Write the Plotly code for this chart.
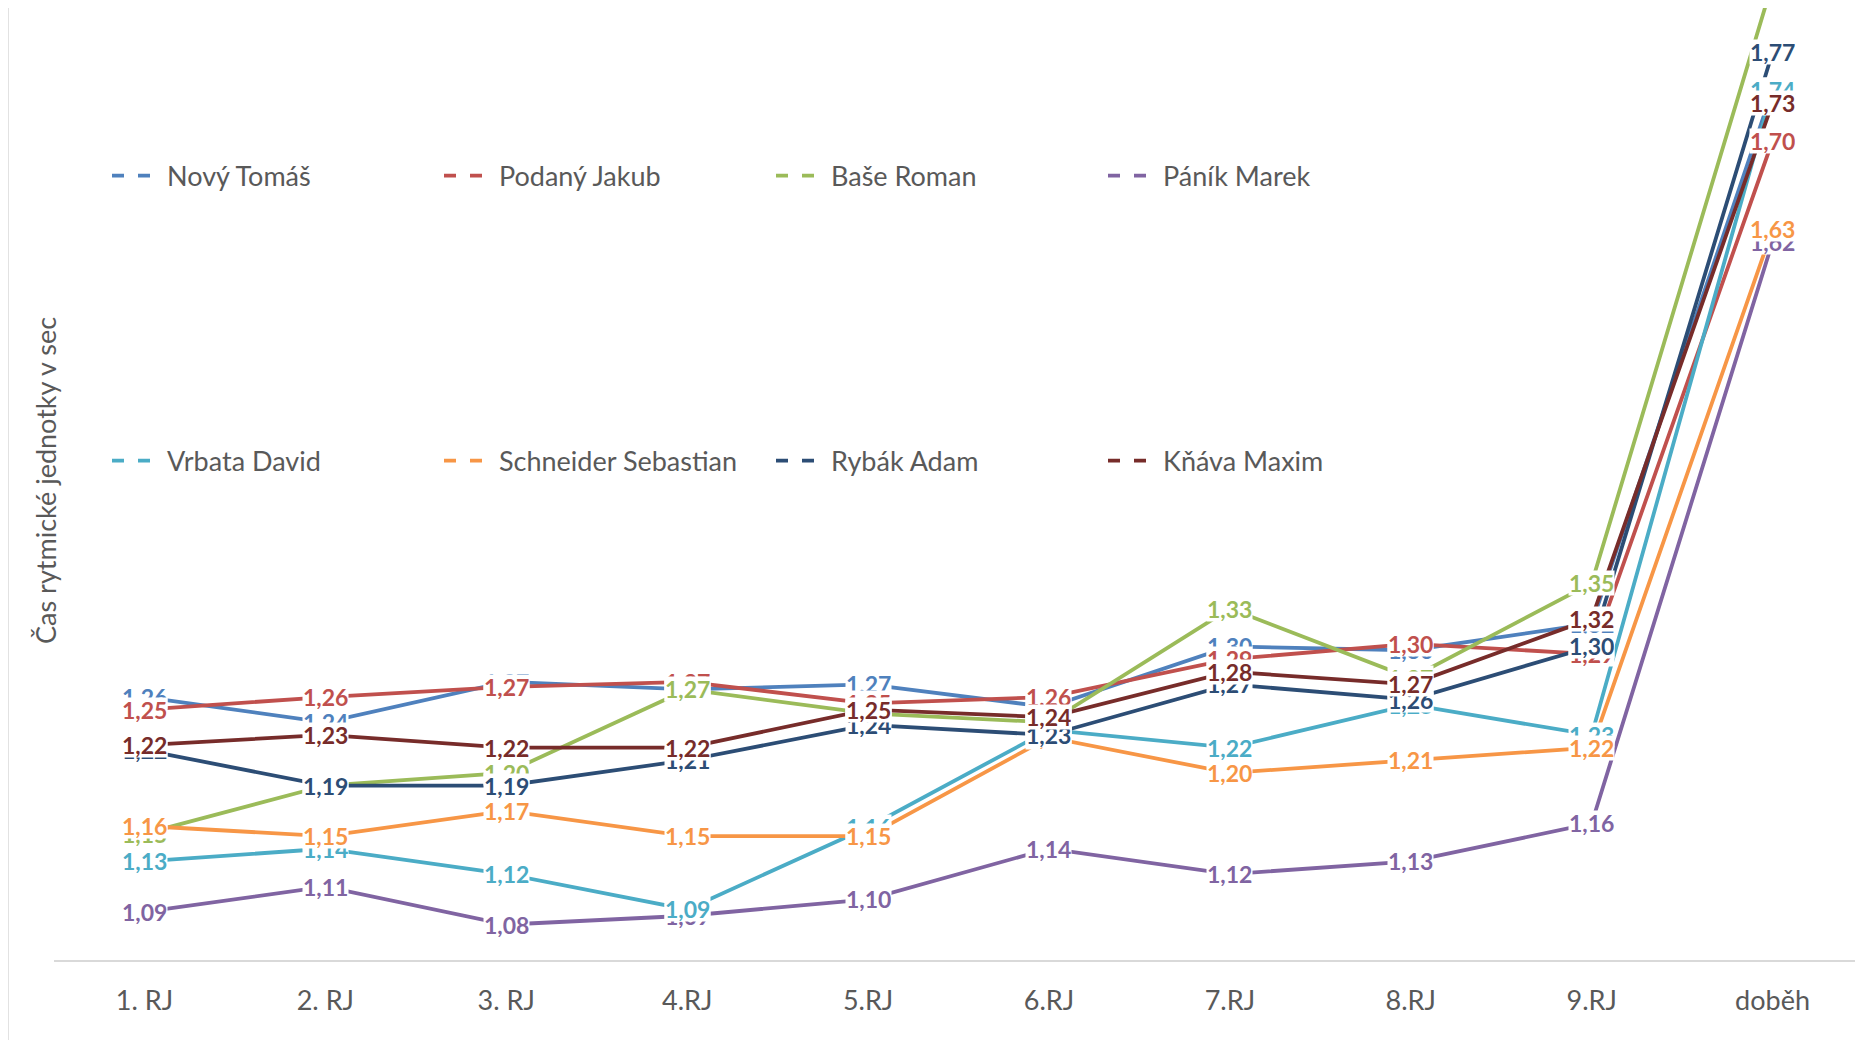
import plotly.graph_objects as go

categories = ["1. RJ", "2. RJ", "3. RJ", "4.RJ", "5.RJ", "6.RJ", "7.RJ", "8.RJ", "9.RJ", "doběh"]

novy_tomas = [1.26, 1.24, 1.272, 1.266, 1.27, 1.252, 1.30, 1.297, 1.318, 1.74]
podany_jakub = [1.25, 1.26, 1.268, 1.272, 1.255, 1.26, 1.29, 1.302, 1.294, 1.70]
base_roman = [1.152, 1.19, 1.20, 1.266, 1.247, 1.24, 1.33, 1.275, 1.35, 1.825]
panik_marek = [1.09, 1.11, 1.08, 1.087, 1.10, 1.14, 1.12, 1.13, 1.16, 1.62]
vrbata_david = [1.13, 1.14, 1.12, 1.092, 1.157, 1.234, 1.22, 1.254, 1.23, 1.74]
schneider_sebastian = [1.158, 1.15, 1.17, 1.15, 1.15, 1.228, 1.20, 1.21, 1.22, 1.63]
rybak_adam = [1.218, 1.19, 1.19, 1.21, 1.238, 1.23, 1.27, 1.258, 1.30, 1.77]
knava_maxim = [1.222, 1.23, 1.22, 1.22, 1.25, 1.244, 1.28, 1.27, 1.322, 1.73]

series_names = ["Nový Tomáš", "Podaný Jakub", "Baše Roman", "Páník Marek",
                "Vrbata David", "Schneider Sebastian", "Rybák Adam", "Kňáva Maxim"]
series_values = [novy_tomas, podany_jakub, base_roman, panik_marek,
                 vrbata_david, schneider_sebastian, rybak_adam, knava_maxim]
series_colors = ["#4F81BD", "#C0504D", "#9BBB59", "#8064A2",
                 "#4BACC6", "#F79646", "#2C4D75", "#772C2A"]

Y_MIN, Y_MAX = 1.052, 1.805
FONT = "Lato"
GREY = "#595959"

fig = go.Figure()

for name, vals, col in zip(series_names, series_values, series_colors):
    fig.add_trace(go.Scatter(
        x=categories, y=vals, mode="lines", name=name,
        line=dict(color=col, width=3.8), showlegend=False, hoverinfo="skip",
    ))

# legend entries (dashed key like the original)
for i, (name, col) in enumerate(zip(series_names, series_colors)):
    fig.add_trace(go.Scatter(
        x=[None], y=[None], mode="lines", name=name,
        line=dict(color=col, width=3.8, dash="12px,14px"),
        showlegend=True, legend="legend" if i < 4 else "legend2",
    ))

annotations = []
for name, vals, col in zip(series_names, series_values, series_colors):
    for c, v in zip(categories, vals):
        if v > Y_MAX:
            continue
        annotations.append(dict(
            x=c, y=v, xref="x", yref="y", showarrow=False,
            text=f"{v:.2f}".replace(".", ","),
            font=dict(family=FONT, size=23, color=col, weight="bold"),
            bgcolor="white", borderpad=0, height=24, valign="middle",
        ))

W, H = 1855, 1032
L, R, T, B = 46, 0, 0, 80
plot_w = W - L - R
plot_h = H - T - B

annotations.append(dict(
    text="Čas rytmické jednotky v sec", textangle=-90,
    xref="paper", yref="paper", x=(37 - L) / plot_w, y=1 - (473 - T) / plot_h,
    showarrow=False, font=dict(family=FONT, size=27, color=GREY),
    xanchor="center", yanchor="middle",
))

legend_common = dict(
    orientation="h", xanchor="left", yanchor="middle",
    font=dict(family=FONT, size=27, color=GREY),
    bgcolor="rgba(0,0,0,0)", entrywidth=267, entrywidthmode="pixels",
    itemwidth=50, itemclick=False, itemdoubleclick=False,
)

fig.update_layout(
    width=W, height=H,
    margin=dict(l=L, r=R, t=T, b=B),
    plot_bgcolor="white", paper_bgcolor="white",
    font=dict(family=FONT, color=GREY),
    annotations=annotations,
    shapes=[dict(type="line", xref="paper", yref="paper",
                 x0=-L / plot_w, x1=-L / plot_w, y0=-B / plot_h, y1=1 + T / plot_h,
                 line=dict(color="#D9D9D9", width=1.5))],
    legend=dict(x=(99 - L) / plot_w, y=1 - (168 - T) / plot_h, **legend_common),
    legend2=dict(x=(99 - L) / plot_w, y=1 - (453 - T) / plot_h, **legend_common),
    xaxis=dict(
        type="category", categoryorder="array", categoryarray=categories,
        range=[-0.5, len(categories) - 0.5],
        showline=True, linecolor="#D9D9D9", linewidth=2,
        showgrid=False, zeroline=False,
        ticks="outside", ticklen=16, tickcolor="rgba(0,0,0,0)",
        tickfont=dict(family=FONT, size=27, color=GREY),
    ),
    yaxis=dict(
        range=[Y_MIN, Y_MAX], showticklabels=False, showgrid=False,
        zeroline=False, showline=False, ticks="",
    ),
)

fig.write_html("out.html")
